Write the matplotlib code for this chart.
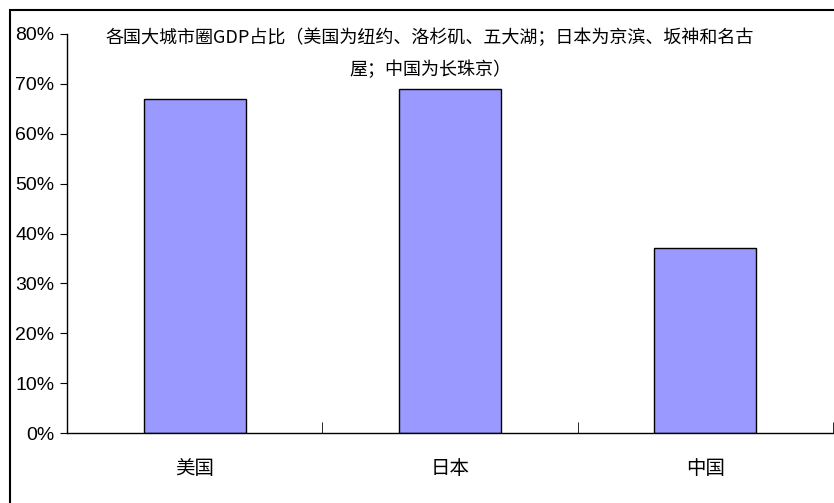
import matplotlib
matplotlib.use('Agg')
import matplotlib.pyplot as plt
import matplotlib.patches as patches
from matplotlib.ticker import FuncFormatter
import numpy as np

plt.rcParams['font.family'] = ['Noto Sans CJK SC', 'DejaVu Sans']

# 数据
countries = ['美国', '日本', '中国']
gdp_share = [0.67, 0.69, 0.37]
title = '各国大城市圈GDP占比（美国为纽约、洛杉矶、五大湖；日本为京滨、坂神和名古\n屋；中国为长珠京）'

W, H = 834, 503
fig = plt.figure(figsize=(W / 100, H / 100), dpi=100)
ax = fig.add_axes([67 / W, 1 - 433 / H, (833 - 67) / W, (433 - 34) / H])

x = np.arange(len(countries))
ax.bar(x, gdp_share, width=0.4, color='#9999FF', edgecolor='black', linewidth=1)

ax.set_xlim(-0.5, len(countries) - 0.5)
ax.set_ylim(0, 0.8)
ax.set_yticks(np.arange(0, 0.81, 0.1))
ax.yaxis.set_major_formatter(FuncFormatter(lambda v, p: '%d%%' % round(v * 100)))
for lab in ax.get_yticklabels():
    lab.set_family('Liberation Sans')
ax.tick_params(axis='y', direction='out', length=5, labelsize=14, pad=4)

ax.set_xticks(x)
ax.set_xticklabels(countries, fontsize=14)
ax.set_xticks(np.arange(-0.5, len(countries)), minor=True)
ax.tick_params(axis='x', which='major', length=0, pad=18)
ax.tick_params(axis='x', which='minor', direction='in', length=8)

ax.spines['top'].set_visible(False)
ax.spines['right'].set_visible(False)
ax.spines['left'].set_linewidth(1)
ax.spines['bottom'].set_linewidth(1)

fig.text(430 / W, 1 - 28 / H, title, ha='center', va='top', fontsize=13, linespacing=1.95)

# 外框
border = patches.Rectangle((10 / W, -0.1), 1.1, 1 - 10 / H + 0.1, transform=fig.transFigure,
                           fill=False, edgecolor='black', linewidth=1.5, clip_on=False)
fig.patches.append(border)

fig.savefig('out.png', dpi=100)
